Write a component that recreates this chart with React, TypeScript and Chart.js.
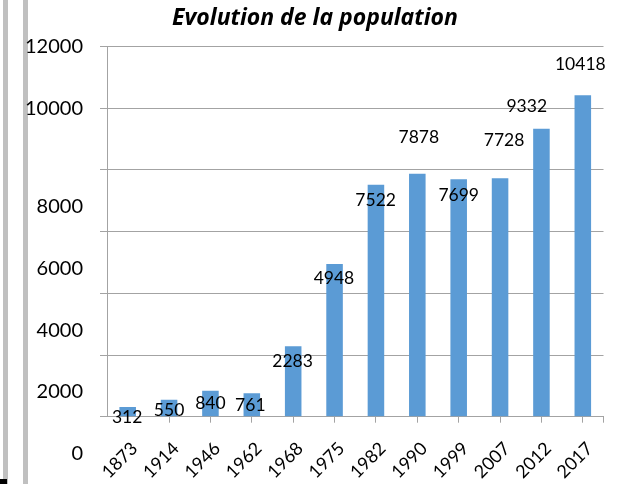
import React, { useEffect, useRef } from 'react';
import { Chart, registerables } from 'chart.js';

Chart.register(...registerables);

// ---- data ----
const years = ['1873', '1914', '1946', '1962', '1968', '1975', '1982', '1990', '1999', '2007', '2012', '2017'];
const population = [312, 550, 840, 761, 2283, 4948, 7522, 7878, 7699, 7728, 9332, 10418];
const yTickValues = [0, 2000, 4000, 6000, 8000, 10000, 12000];
const chartTitle = 'Evolution de la population';

// ---- styling (label placement as in the reference) ----
const gridColor = '#a3a3a3';
const barColor = '#5b9bd5';
const FONT = 'Lato, "Open Sans", sans-serif';
const TITLE_FONT = '"Open Sans", Lato, sans-serif';
const dataLabelShift: [number, number][] = [
  [-0.5, 10], [0, 11], [0, 13], [-1.5, 12], [-0.6, 15], [-0.6, 14],
  [-0.3, 16], [1.5, -36], [0, 16], [4, -38], [-14.7, -22], [-2.5, -31],
];
const yLabelShift = (v: number) => (v <= 8000 ? 37 : 0);

const labelsPlugin = {
  id: 'customLabels',
  afterDatasetsDraw(chart: any) {
    const ctx = chart.ctx as CanvasRenderingContext2D;
    const meta = chart.getDatasetMeta(0);
    const ys = chart.scales.y;
    const xs = chart.scales.x;
    ctx.save();
    ctx.fillStyle = '#000';
    // data labels
    ctx.font = `17.5px ${FONT}`;
    ctx.textAlign = 'center';
    ctx.textBaseline = 'middle';
    meta.data.forEach((bar: any, i: number) => {
      const [dx, dy] = dataLabelShift[i];
      ctx.fillText(String(population[i]), bar.x + dx, bar.y + dy);
    });
    // y axis labels
    ctx.font = `20px ${FONT}`;
    ctx.textAlign = 'right';
    yTickValues.forEach((v) => {
      ctx.fillText(String(v), chart.chartArea.left - 24, ys.getPixelForValue(v) + yLabelShift(v));
    });
    // x axis labels, rotated 45°
    ctx.font = `18px ${FONT}`;
    ctx.textAlign = 'right';
    ctx.textBaseline = 'alphabetic';
    years.forEach((label, i) => {
      const px = xs.getPixelForTick(i);
      ctx.save();
      ctx.translate(px + 11, xs.top + 33);
      ctx.rotate(-Math.PI / 4);
      ctx.fillText(label, 0, 0);
      ctx.restore();
    });
    // closing tick at the end of the x axis
    ctx.strokeStyle = gridColor;
    ctx.lineWidth = 1;
    const xr = Math.round(xs.right) - 0.5;
    ctx.beginPath();
    ctx.moveTo(xr, xs.top);
    ctx.lineTo(xr, xs.top + 6);
    ctx.stroke();
    ctx.restore();
  },
};

function PopulationChart() {
  const ref = useRef<HTMLCanvasElement | null>(null);
  useEffect(() => {
    if (!ref.current) return;
    const chart = new Chart(ref.current, {
      type: 'bar',
      data: {
        labels: years,
        datasets: [
          {
            label: 'Population',
            data: population,
            backgroundColor: barColor,
            barPercentage: 0.4,
            categoryPercentage: 1,
          },
        ],
      },
      options: {
        responsive: false,
        animation: false,
        devicePixelRatio: 1,
        layout: { padding: { left: 5, right: 0, top: 0, bottom: 0 } },
        plugins: {
          legend: { display: false },
          tooltip: { enabled: false },
          title: {
            display: true,
            text: chartTitle,
            color: '#000',
            font: { family: TITLE_FONT, size: 23, weight: 'bold', style: 'italic', lineHeight: 1.2 },
            padding: { top: 4.3, bottom: 14.6 },
          },
        },
        scales: {
          x: {
            type: 'category',
            offset: true,
            grid: {
              display: true,
              drawOnChartArea: false,
              drawTicks: true,
              tickLength: 6,
              color: gridColor,
              offset: false,
            },
            border: { display: true, color: gridColor },
            ticks: { display: false, autoSkip: false },
            afterFit: (s: any) => {
              s.height = 67.3;
            },
          },
          y: {
            type: 'linear',
            position: 'left',
            min: 0,
            max: 12000,
            ticks: { stepSize: 2000, display: false },
            grid: { color: gridColor, tickLength: 7, drawTicks: true },
            border: { display: true, color: gridColor },
            afterFit: (s: any) => {
              s.width = 102;
            },
          },
          y2: {
            type: 'linear',
            position: 'right',
            display: true,
            grid: { display: false },
            ticks: { display: false },
            border: { display: false },
            afterFit: (s: any) => {
              s.width = 21.5;
            },
          },
        },
      },
      plugins: [labelsPlugin],
    } as any);
    return () => chart.destroy();
  }, []);
  return <canvas ref={ref} width={625} height={484} style={{ position: 'absolute', left: 0, top: 0 }} />;
}

export default function App() {
  return (
    <div style={{ position: 'absolute', left: 0, top: 0, width: 625, height: 484, background: '#fff', overflow: 'hidden' }}>
      <div style={{ position: 'absolute', left: 3, top: 0, width: 5, height: 484, background: '#c0c0c0' }} />
      <div style={{ position: 'absolute', left: 23, top: 0, width: 5, height: 484, background: '#c0c0c0' }} />
      <div style={{ position: 'absolute', left: 0, top: 479, width: 7, height: 5, background: '#000' }} />
      <PopulationChart />
    </div>
  );
}
